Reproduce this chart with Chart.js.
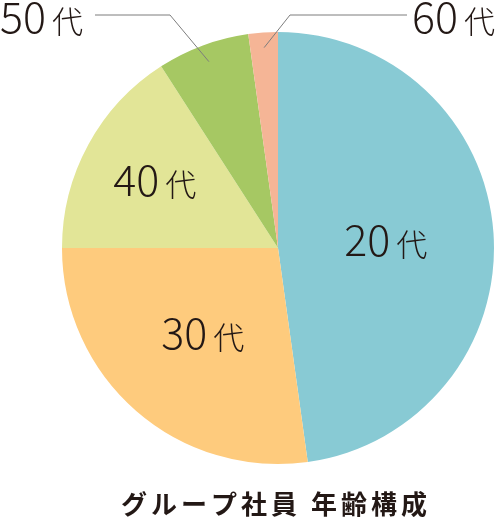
<!DOCTYPE html>
<html>
<head>
<meta charset="utf-8">
<script src="https://cdn.jsdelivr.net/npm/chart.js@4.4.1/dist/chart.umd.min.js"></script>
<style>
  html, body { margin: 0; padding: 0; background: #fff; }
  #wrap { width: 502px; height: 522px; position: relative; }
</style>
</head>
<body>
<div id="wrap"><canvas id="myChart"></canvas></div>
<script>
// 年代別の割合(%) 画像から読み取り
const ageLabels = ["20", "30", "40", "50", "60"];
const ageShares = [47.8, 27.2, 15.9, 6.9, 2.2];
const sliceColors = ["#88cad4", "#fecb7d", "#e2e597", "#a6c863", "#f5b596"];
const chartTitle = "グループ社員 年齢構成";

// ラベルの置き方 (inside: 扇形の中 / outside: 引き出し線)
const labelPlaces = [
  { type: "inside", r: 0.5 },
  { type: "inside", r: 0.53 },
  { type: "inside", r: 0.65 },
  { type: "outside", r: 0.92, elbowX: 170, lineY: 15, endX: 95, align: "right", gap: 12 },
  { type: "outside", r: 0.93, elbowX: 290, lineY: 15, endX: 407, align: "left", gap: 5 },
];

function drawAgeText(ctx, x, y, age, align) {
  const numFont = "300 43px 'Noto Sans CJK JP', 'Noto Sans', sans-serif";
  const daiFont = "300 31px 'Noto Sans CJK JP', sans-serif";
  ctx.font = numFont;
  const wNum = ctx.measureText(age).width;
  ctx.font = daiFont;
  const wDai = ctx.measureText("代").width;
  const gap = 6;
  const total = wNum + gap + wDai;
  let left = x - total / 2;
  if (align === "right") left = x - total;
  if (align === "left") left = x;
  ctx.fillStyle = "#231815";
  ctx.textAlign = "left";
  ctx.textBaseline = "alphabetic";
  ctx.font = numFont;
  ctx.fillText(age, left, y + 15);
  ctx.font = daiFont;
  ctx.fillText("代", left + wNum + gap, y + 15);
}

//ラベルと引き出し線
const ageLabelPlugin = {
  id: "ageLabelPlugin",
  afterDatasetsDraw(chart) {
    const ctx = chart.ctx;
    const arcs = chart.getDatasetMeta(0).data;
    ctx.save();
    arcs.forEach((arc, i) => {
      const place = labelPlaces[i];
      const mid = (arc.startAngle + arc.endAngle) / 2;
      const px = arc.x + Math.cos(mid) * arc.outerRadius * place.r;
      const py = arc.y + Math.sin(mid) * arc.outerRadius * place.r;
      if (place.type === "inside") {
        drawAgeText(ctx, px, py, ageLabels[i], "center");
      } else {
        ctx.strokeStyle = "#7d7d7d";
        ctx.lineWidth = 1;
        ctx.beginPath();
        ctx.moveTo(px, py);
        ctx.lineTo(place.elbowX, place.lineY);
        ctx.lineTo(place.endX, place.lineY);
        ctx.stroke();
        const tx = place.align === "right" ? place.endX - place.gap : place.endX + place.gap;
        drawAgeText(ctx, tx, place.lineY + 3, ageLabels[i], place.align);
      }
    });
    // タイトル
    ctx.font = "bold 26px 'Noto Sans CJK JP', sans-serif";
    ctx.letterSpacing = "4px";
    ctx.fillStyle = "#231815";
    ctx.textAlign = "center";
    ctx.textBaseline = "middle";
    ctx.fillText(chartTitle, 276, 504);
    ctx.restore();
  },
};

const config = {
  type: "pie",
  data: {
    labels: ageLabels.map((a) => a + "代"),
    datasets: [
      {
        data: ageShares,
        backgroundColor: sliceColors,
        borderWidth: 0,
      },
    ],
  },
  options: {
    responsive: false,
    animation: false,
    layout: { padding: { top: 32, bottom: 58, left: 62, right: 8 } },
    plugins: {
      legend: { display: false },
      tooltip: { enabled: false },
    },
  },
  plugins: [ageLabelPlugin],
};

const canvas = document.getElementById("myChart");
canvas.width = 502;
canvas.height = 522;
canvas.style.width = "502px";
canvas.style.height = "522px";
const myChart = new Chart(canvas, config);
</script>
</body>
</html>
